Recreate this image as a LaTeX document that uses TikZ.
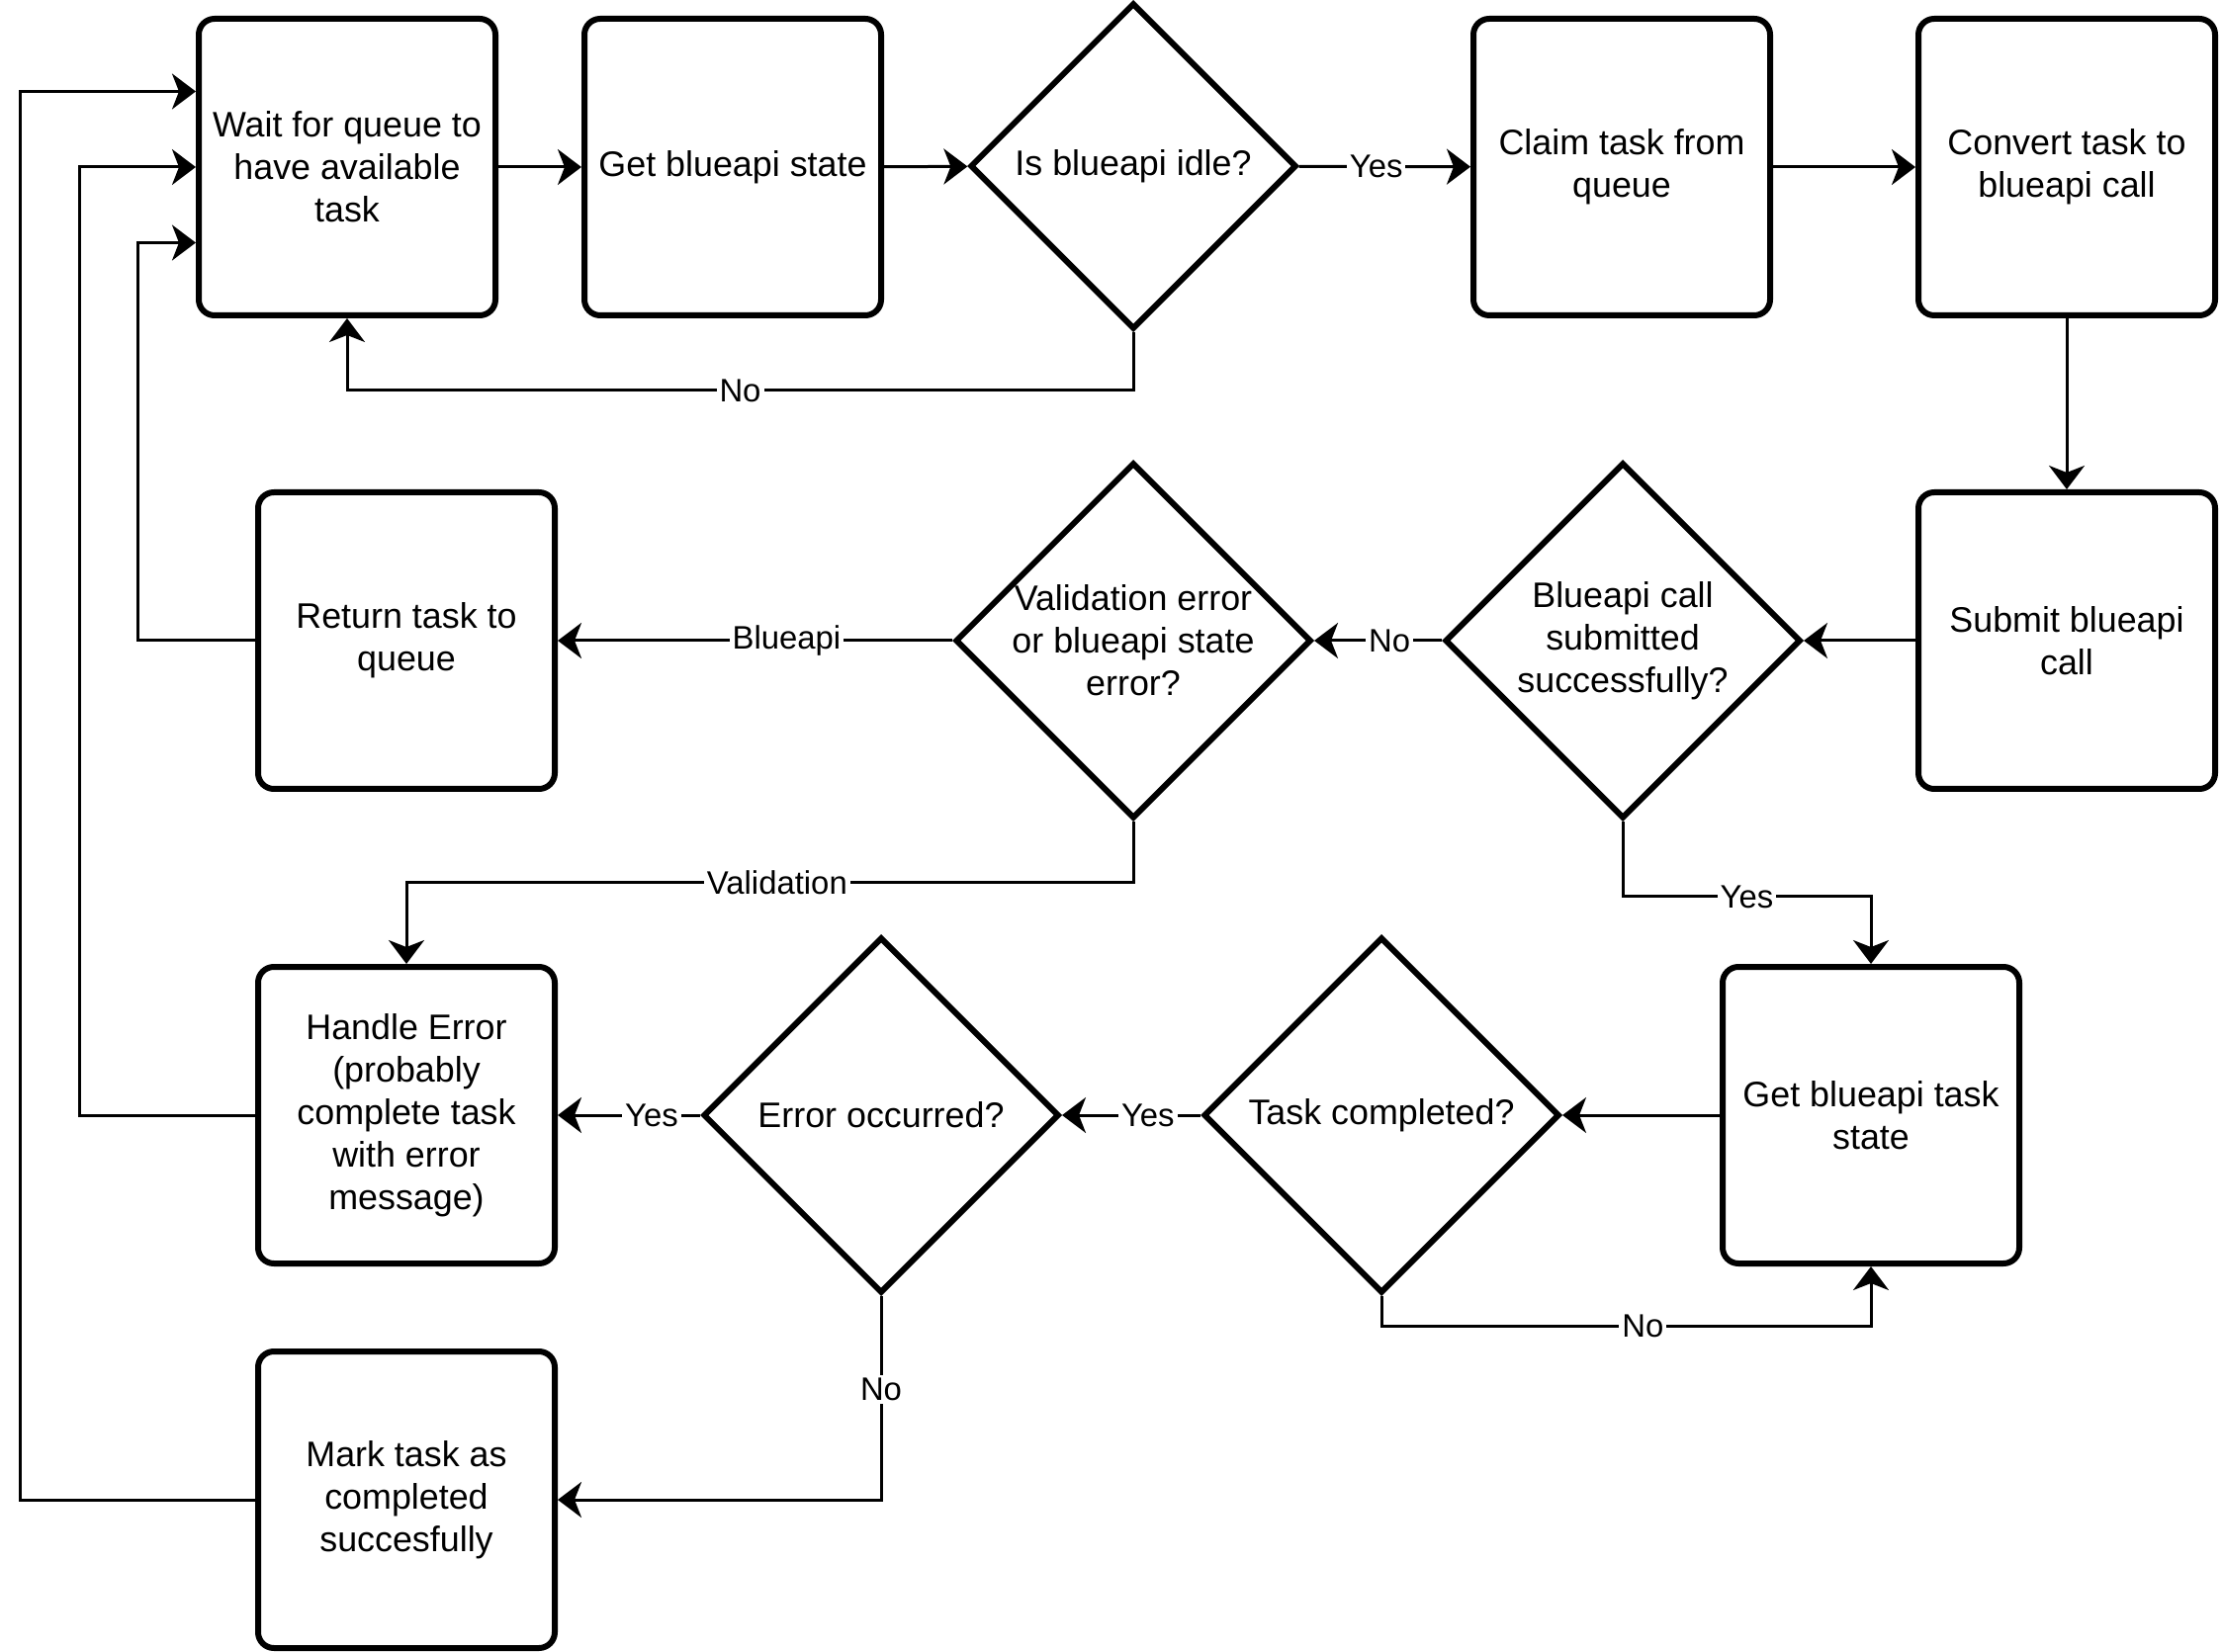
\documentclass[tikz,border=0pt]{standalone}
\usepackage{fontspec}
\setmainfont{Liberation Sans}
\usetikzlibrary{shapes.geometric,arrows.meta,calc}
\newcommand{\boxfnt}{\fontsize{10.2pt}{12.2pt}\selectfont}
\newcommand{\labfnt}{\fontsize{9.35pt}{11pt}\selectfont}
\begin{document}
\begin{tikzpicture}[x=0.1mm,y=-0.1mm,
  stepbox/.style={draw, line width=0.6mm, rounded corners=1.6mm, minimum width=30mm, minimum height=30mm, align=center, font=\boxfnt, inner sep=0pt},
  dec/.style={draw, shape=diamond, line width=0.6mm, minimum width=36mm, minimum height=36mm, inner sep=0pt},
  dtext/.style={align=center, font=\boxfnt},
  arr/.style={line width=0.3mm, -{Stealth[length=2.4mm,width=3.6mm,inset=0.7mm]}},
  lab/.style={fill=white, font=\labfnt, inner sep=0.3mm}]
\useasboundingbox (0,0) rectangle (2247,1671);
% nodes
\node[stepbox] (w) at (351,169) {Wait for queue to\\have available\\task};
\node[stepbox] (gs) at (741,169) {Get blueapi state};
\node[dec, minimum width=33mm, minimum height=33mm, label={[dtext]center:Is blueapi idle?}] (idle) at (1146,168) {};
\node[stepbox] (claim) at (1640,169) {Claim task from\\queue};
\node[stepbox] (conv) at (2090,169) {Convert task to\\blueapi call};
\node[stepbox] (sub) at (2090,648) {Submit blueapi\\call};
\node[dec, label={[dtext]center:Blueapi call\\submitted\\successfully?}] (subq) at (1641,648) {};
\node[dec, label={[dtext]center:Validation error\\or blueapi state\\error?}] (valq) at (1146,648) {};
\node[stepbox] (ret) at (411,648) {Return task to\\queue};
\node[stepbox] (herr) at (411,1128) {Handle Error\\(probably\\complete task\\with error\\message)};
\node[dec, label={[dtext]center:Error occurred?}] (errq) at (891,1128) {};
\node[dec, label={[dtext]center:Task completed?}] (doneq) at (1397,1128) {};
\node[stepbox] (gts) at (1892,1128) {Get blueapi task\\state};
\node[stepbox] (mark) at (411,1517) {Mark task as\\completed\\succesfully};
% entry points on the left of the first box
\coordinate (w1) at ($(w.north west)!0.25!(w.south west)$);
\coordinate (w2) at (w.west);
\coordinate (w3) at ($(w.north west)!0.75!(w.south west)$);
% connectors
\draw[arr] (w) -- (gs);
\draw[arr] (gs) -- (idle);
\draw[arr] (idle) -- node[lab,pos=0.45]{Yes} (claim);
\draw[arr] (idle.south) -- ++(0,59) -| node[lab,pos=0.25]{No} (w.south);
\draw[arr] (claim) -- (conv);
\draw[arr] (conv) -- (sub);
\draw[arr] (sub) -- (subq);
\draw[arr] (subq) -- node[lab,pos=0.41]{No} (valq);
\draw[arr] (valq) -- node[lab,pos=0.42]{Blueapi} (ret);
\draw[arr] (valq.south) -- ++(0,62) -| node[lab,pos=0.245]{Validation} (herr.north);
\draw[arr] (subq.south) -- ++(0,76) -| node[lab,pos=0.25]{Yes} (gts.north);
\draw[arr] (gts) -- (doneq);
\draw[arr] (doneq) -- node[lab,pos=0.38]{Yes} (errq);
\draw[arr] (errq) -- node[lab,pos=0.34]{Yes} (herr);
\draw[arr] (doneq.south) -- ++(0,30) -| node[lab,pos=0.267]{No} (gts.south);
\draw[arr] (errq.south) |- node[lab,pos=0.23]{No} (mark.east);
\draw[arr] (ret.west) -- ++(-119,0) |- (w3);
\draw[arr] (herr.west) -- ++(-178,0) |- (w2);
\draw[arr] (mark.west) -- ++(-238,0) |- (w1);
\end{tikzpicture}
\end{document}
